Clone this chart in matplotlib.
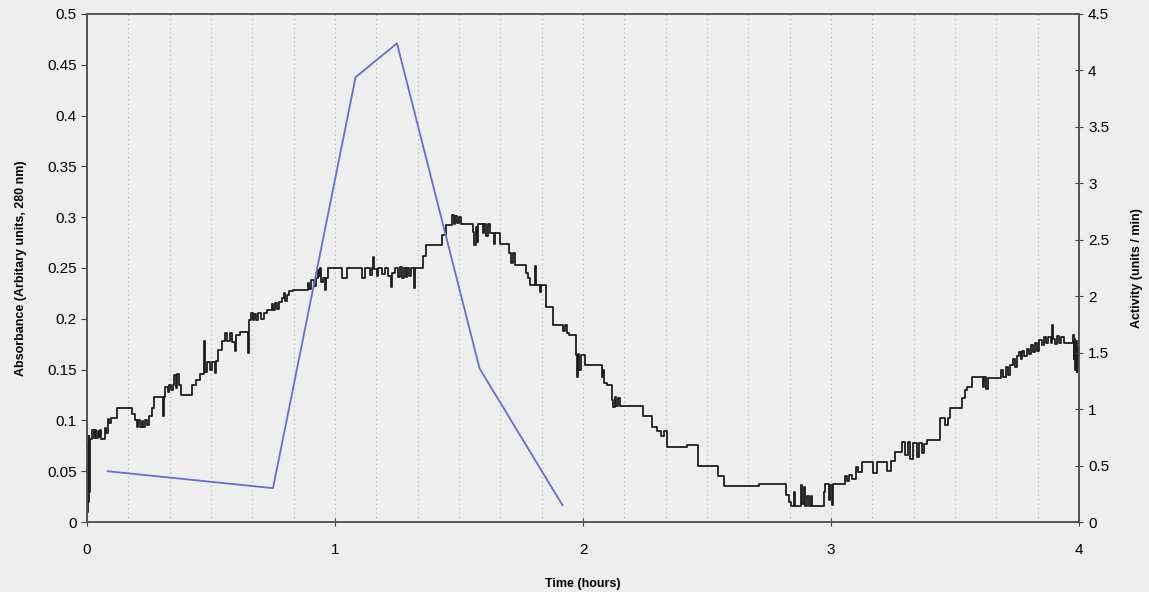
import numpy as np
import matplotlib
matplotlib.use('Agg')
import matplotlib.pyplot as plt
from matplotlib.ticker import MultipleLocator

plt.rcParams['font.family'] = ['Liberation Sans', 'DejaVu Sans']

# absorbance trace (left axis), step-like recorder output
abs_time = [0.000, 0.002, 0.004, 0.006, 0.008, 0.010, 0.012, 0.020, 0.028, 0.033,
            0.038, 0.043, 0.048, 0.053, 0.058, 0.073, 0.078, 0.083, 0.090, 0.095,
            0.121, 0.181, 0.192, 0.200, 0.207, 0.213, 0.220, 0.227, 0.235, 0.243,
            0.250, 0.262, 0.270, 0.305, 0.309, 0.316, 0.325, 0.330, 0.338, 0.345,
            0.352, 0.358, 0.363, 0.370, 0.378, 0.425, 0.440, 0.455, 0.472, 0.476,
            0.485, 0.495, 0.505, 0.515, 0.520, 0.530, 0.545, 0.555, 0.565, 0.575,
            0.585, 0.595, 0.600, 0.615, 0.648, 0.652, 0.660, 0.668, 0.675, 0.683,
            0.690, 0.700, 0.712, 0.726, 0.745, 0.752, 0.760, 0.768, 0.776, 0.786,
            0.793, 0.800, 0.808, 0.815, 0.830, 0.890, 0.897, 0.905, 0.915, 0.925,
            0.930, 0.935, 0.940, 0.945, 0.953, 0.958, 0.962, 0.970, 1.030, 1.050,
            1.110, 1.120, 1.140, 1.150, 1.155, 1.159, 1.170, 1.175, 1.190, 1.200,
            1.215, 1.225, 1.230, 1.240, 1.255, 1.262, 1.270, 1.277, 1.285, 1.292,
            1.300, 1.308, 1.317, 1.322, 1.355, 1.368, 1.430, 1.447, 1.470, 1.478,
            1.485, 1.492, 1.500, 1.510, 1.557, 1.562, 1.568, 1.573, 1.578, 1.595,
            1.600, 1.610, 1.617, 1.625, 1.640, 1.646, 1.665, 1.700, 1.710, 1.716,
            1.725, 1.770, 1.778, 1.786, 1.808, 1.812, 1.825, 1.830, 1.850, 1.880,
            1.920, 1.928, 1.935, 1.945, 1.970, 1.975, 1.980, 1.985, 1.990, 2.010,
            2.075, 2.080, 2.085, 2.095, 2.115, 2.122, 2.128, 2.135, 2.142, 2.150,
            2.240, 2.280, 2.300, 2.315, 2.325, 2.340, 2.420, 2.465, 2.545, 2.570,
            2.710, 2.820, 2.830, 2.840, 2.850, 2.855, 2.870, 2.878, 2.883, 2.890,
            2.895, 2.905, 2.910, 2.918, 2.923, 2.970, 2.975, 2.990, 2.995, 3.005,
            3.010, 3.056, 3.065, 3.072, 3.085, 3.100, 3.110, 3.125, 3.168, 3.185,
            3.225, 3.240, 3.260, 3.285, 3.300, 3.310, 3.320, 3.330, 3.345, 3.355,
            3.365, 3.375, 3.387, 3.440, 3.460, 3.470, 3.480, 3.530, 3.540, 3.550,
            3.570, 3.612, 3.618, 3.625, 3.632, 3.685, 3.695, 3.705, 3.715, 3.722,
            3.732, 3.740, 3.748, 3.758, 3.765, 3.772, 3.780, 3.790, 3.800, 3.808,
            3.815, 3.822, 3.830, 3.840, 3.850, 3.858, 3.866, 3.875, 3.885, 3.890,
            3.894, 3.905, 3.912, 3.920, 3.928, 3.938, 3.975, 3.978, 3.981, 3.984,
            3.987, 3.990, 3.993, 3.996, 4.000]
abs_value = [0.060, 0.010, 0.075, 0.020, 0.085, 0.030, 0.082, 0.091, 0.083, 0.091,
             0.083, 0.090, 0.084, 0.091, 0.082, 0.093, 0.088, 0.101, 0.097, 0.102,
             0.112, 0.106, 0.100, 0.094, 0.100, 0.094, 0.099, 0.094, 0.100, 0.095,
             0.104, 0.112, 0.123, 0.104, 0.123, 0.133, 0.128, 0.135, 0.130, 0.135,
             0.145, 0.132, 0.146, 0.135, 0.125, 0.135, 0.140, 0.146, 0.178, 0.148,
             0.157, 0.150, 0.157, 0.147, 0.158, 0.169, 0.178, 0.186, 0.178, 0.186,
             0.177, 0.168, 0.184, 0.187, 0.166, 0.199, 0.206, 0.199, 0.205, 0.199,
             0.206, 0.200, 0.206, 0.209, 0.215, 0.209, 0.216, 0.210, 0.217, 0.220,
             0.225, 0.218, 0.223, 0.227, 0.228, 0.235, 0.229, 0.238, 0.232, 0.240,
             0.248, 0.242, 0.250, 0.236, 0.240, 0.228, 0.240, 0.250, 0.240, 0.250,
             0.240, 0.250, 0.243, 0.250, 0.261, 0.249, 0.242, 0.250, 0.244, 0.250,
             0.242, 0.231, 0.245, 0.250, 0.241, 0.251, 0.240, 0.250, 0.241, 0.250,
             0.242, 0.250, 0.230, 0.250, 0.262, 0.273, 0.282, 0.292, 0.302, 0.293,
             0.301, 0.294, 0.300, 0.293, 0.285, 0.273, 0.290, 0.276, 0.293, 0.284,
             0.293, 0.281, 0.293, 0.284, 0.274, 0.284, 0.274, 0.265, 0.255, 0.265,
             0.253, 0.245, 0.240, 0.233, 0.252, 0.233, 0.226, 0.233, 0.212, 0.194,
             0.188, 0.194, 0.186, 0.184, 0.164, 0.143, 0.165, 0.150, 0.164, 0.155,
             0.143, 0.150, 0.137, 0.135, 0.120, 0.113, 0.123, 0.114, 0.122, 0.114,
             0.104, 0.094, 0.090, 0.085, 0.090, 0.074, 0.076, 0.055, 0.045, 0.035,
             0.037, 0.027, 0.020, 0.016, 0.030, 0.016, 0.016, 0.036, 0.018, 0.034,
             0.016, 0.026, 0.016, 0.026, 0.016, 0.030, 0.037, 0.022, 0.036, 0.017,
             0.037, 0.045, 0.040, 0.046, 0.042, 0.054, 0.049, 0.059, 0.048, 0.059,
             0.050, 0.060, 0.069, 0.079, 0.066, 0.079, 0.062, 0.078, 0.064, 0.078,
             0.068, 0.077, 0.081, 0.102, 0.095, 0.102, 0.112, 0.122, 0.130, 0.133,
             0.143, 0.133, 0.143, 0.131, 0.142, 0.150, 0.143, 0.153, 0.145, 0.155,
             0.160, 0.153, 0.163, 0.167, 0.160, 0.168, 0.163, 0.170, 0.165, 0.174,
             0.167, 0.176, 0.168, 0.179, 0.174, 0.182, 0.176, 0.182, 0.176, 0.194,
             0.180, 0.175, 0.183, 0.176, 0.182, 0.176, 0.184, 0.160, 0.180, 0.150,
             0.178, 0.148, 0.172, 0.155, 0.165]

# enzyme activity (right axis)
act_time = [0.083, 0.75, 1.083, 1.25, 1.583, 1.917]
act_value = [0.45, 0.30, 3.94, 4.24, 1.36, 0.15]

bg = '#eeeeee'
fig = plt.figure(figsize=(11.49, 5.92), dpi=100, facecolor=bg)
ax = fig.add_axes([0.0757, 0.1182, 0.8634, 0.8582])
ax.set_facecolor(bg)

ax.plot(abs_time, abs_value, drawstyle='steps-post', color='#1e1e1e', lw=1.3, zorder=3)
ax.set_xlim(0, 4)
ax.set_ylim(0, 0.5)
ax.xaxis.set_major_locator(MultipleLocator(1))
ax.xaxis.set_minor_locator(MultipleLocator(1 / 6))
ax.set_yticks(np.arange(0, 0.501, 0.05))
ax.set_yticklabels(['0', '0.05', '0.1', '0.15', '0.2', '0.25', '0.3', '0.35', '0.4', '0.45', '0.5'])
ax.grid(axis='x', which='both', color='#b4b4b4', lw=0.8, dashes=(1, 3))
ax.tick_params(axis='x', which='major', direction='inout', length=6, labelsize=11, pad=12, color='#444444')
ax.tick_params(axis='x', which='minor', length=0)
ax.tick_params(axis='y', direction='out', length=4, labelsize=11, color='#444444')
for s in ax.spines.values():
    s.set_color('#555555')
    s.set_linewidth(1.2)
ax.set_xlabel('Time (hours)', fontsize=9, fontweight='bold', labelpad=15)
ax.set_ylabel('Absorbance (Arbitary units, 280 nm)', fontsize=9, fontweight='bold', labelpad=14)

ax2 = ax.twinx()
ax2.plot(act_time, act_value, color='#6a6ad8', lw=1.3, zorder=2)
ax2.set_ylim(0, 4.5)
ax2.set_yticks(np.arange(0, 4.51, 0.5))
ax2.set_yticklabels(['0', '0.5', '1', '1.5', '2', '2.5', '3', '3.5', '4', '4.5'])
ax2.tick_params(axis='y', direction='inout', length=6, labelsize=11, color='#444444')
ax2.set_ylabel('Activity (units / min)', fontsize=9, fontweight='bold', labelpad=16)
for s in ax2.spines.values():
    s.set_color('#555555')
    s.set_linewidth(1.2)

fig.savefig('out.png', dpi=100, facecolor=bg)
